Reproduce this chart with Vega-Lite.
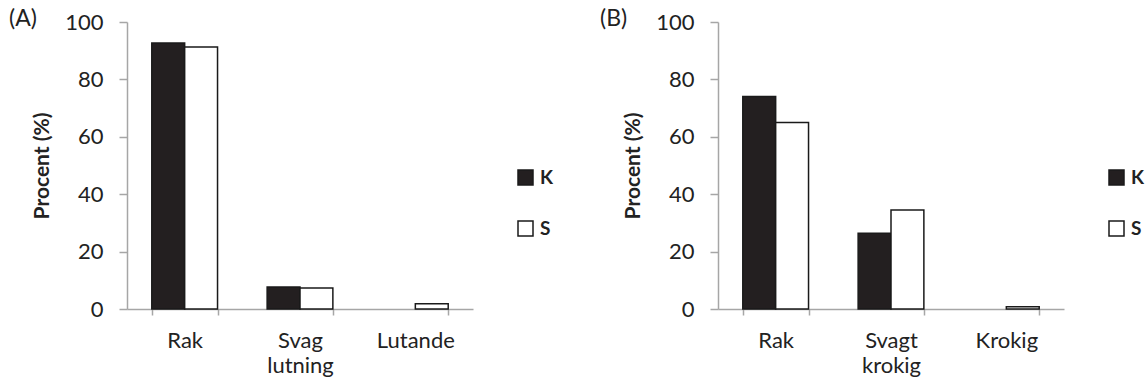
{
  "$schema": "https://vega.github.io/schema/vega-lite/v6.json",
  "background": "white",
  "padding": {"left": 9, "top": 8, "right": 0, "bottom": 5},
  "datasets": {
    "A": [
      {"cat": "Rak", "grp": "K", "value": 92.7},
      {"cat": "Rak", "grp": "S", "value": 91.3},
      {"cat": "Svag lutning", "grp": "K", "value": 7.7},
      {"cat": "Svag lutning", "grp": "S", "value": 7.3},
      {"cat": "Lutande", "grp": "K", "value": 0},
      {"cat": "Lutande", "grp": "S", "value": 1.8}
    ],
    "B": [
      {"cat": "Rak", "grp": "K", "value": 74},
      {"cat": "Rak", "grp": "S", "value": 65},
      {"cat": "Svagt krokig", "grp": "K", "value": 26.4},
      {"cat": "Svagt krokig", "grp": "S", "value": 34.5},
      {"cat": "Krokig", "grp": "K", "value": 0},
      {"cat": "Krokig", "grp": "S", "value": 0.8}
    ]
  },
  "spacing": 46,
  "hconcat": [
    {
      "width": 346,
      "height": 287,
      "data": {"name": "A"},
      "title": {"text": "(A)", "anchor": "start", "frame": "group", "dx": -118, "dy": 20, "offset": 0},
      "mark": {"type": "bar", "stroke": "#1a1a1a", "strokeWidth": 1.5},
      "encoding": {
        "x": {"field": "cat", "type": "nominal", "sort": ["Rak", "Svag lutning", "Lutande"], "scale": {"paddingInner": 0.43, "paddingOuter": 0.215}, "axis": {"title": null, "labelExpr": "split(datum.label, ' ')"}},
        "xOffset": {"field": "grp", "type": "nominal", "sort": ["K", "S"], "scale": {"paddingInner": 0, "paddingOuter": 0}},
        "y": {"field": "value", "type": "quantitative", "scale": {"domain": [0, 100]}, "axis": {"title": "Procent (%)", "values": [0, 20, 40, 60, 80, 100]}},
        "color": {"field": "grp", "type": "nominal", "scale": {"domain": ["K", "S"], "range": ["#231f20", "#ffffff"]}, "legend": {"orient": "none", "legendX": 389, "legendY": 146}},
        "strokeOpacity": {"condition": {"test": "datum.value == 0", "value": 0}, "value": 1}
      }
    },
    {
      "width": 346,
      "height": 287,
      "data": {"name": "B"},
      "title": {"text": "(B)", "anchor": "start", "frame": "group", "dx": -118, "dy": 20, "offset": 0},
      "mark": {"type": "bar", "stroke": "#1a1a1a", "strokeWidth": 1.5},
      "encoding": {
        "x": {"field": "cat", "type": "nominal", "sort": ["Rak", "Svagt krokig", "Krokig"], "scale": {"paddingInner": 0.43, "paddingOuter": 0.215}, "axis": {"title": null, "labelExpr": "split(datum.label, ' ')"}},
        "xOffset": {"field": "grp", "type": "nominal", "sort": ["K", "S"], "scale": {"paddingInner": 0, "paddingOuter": 0}},
        "y": {"field": "value", "type": "quantitative", "scale": {"domain": [0, 100]}, "axis": {"title": "Procent (%)", "values": [0, 20, 40, 60, 80, 100]}},
        "color": {"field": "grp", "type": "nominal", "scale": {"domain": ["K", "S"], "range": ["#231f20", "#ffffff"]}, "legend": {"orient": "none", "legendX": 389, "legendY": 146}},
        "strokeOpacity": {"condition": {"test": "datum.value == 0", "value": 0}, "value": 1}
      }
    }
  ],
  "resolve": {"scale": {"color": "independent", "x": "independent"}, "legend": {"color": "independent"}},
  "config": {
    "view": {"stroke": null},
    "font": "Lato",
    "title": {"font": "Lato", "fontSize": 23, "fontWeight": "normal", "color": "#222222", "baseline": "middle"},
    "axis": {"grid": false, "domainColor": "#a6a6a6", "tickColor": "#a6a6a6", "domainWidth": 1.5, "tickWidth": 1.5, "labelFont": "Lato", "labelFontSize": 22, "labelColor": "#222222", "titleFont": "Lato", "titleFontSize": 21, "titleFontWeight": "bold", "titleColor": "#222222"},
    "axisY": {"tickSize": 8, "labelPadding": 16, "titlePadding": 12},
    "axisX": {"tickSize": 6, "labelPadding": 15, "labelAngle": 0, "tickBand": "extent", "labelLineHeight": 25},
    "legend": {"title": null, "symbolType": "square", "symbolSize": 225, "symbolStrokeColor": "#1a1a1a", "symbolStrokeWidth": 1.5, "labelFont": "Lato", "labelFontSize": 19, "labelFontWeight": "bold", "labelColor": "#222222", "rowPadding": 30, "labelOffset": 5}
  }
}
